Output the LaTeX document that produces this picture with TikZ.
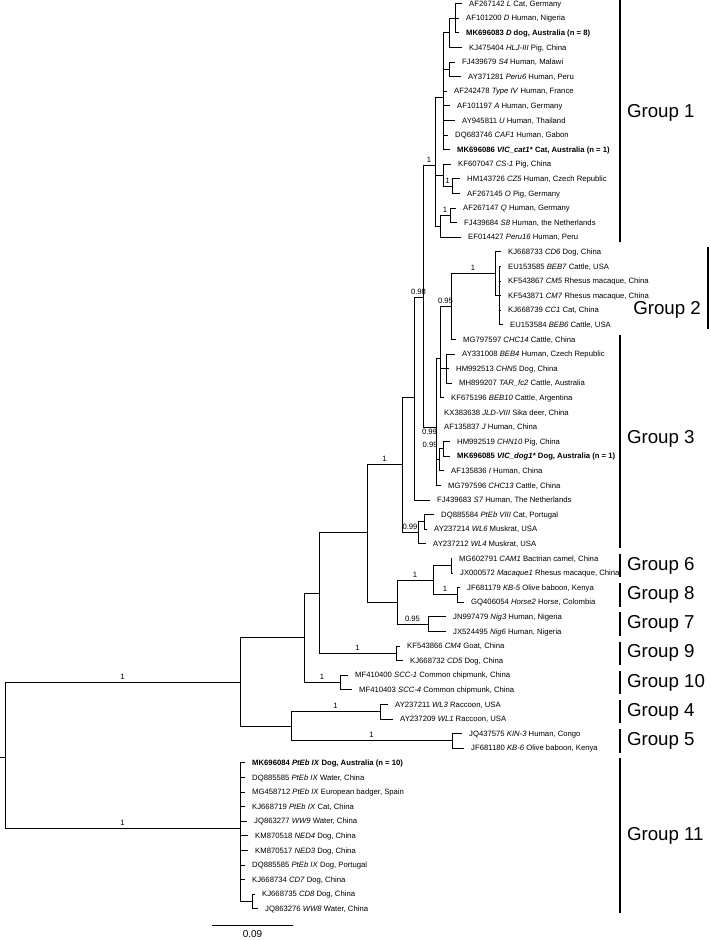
\documentclass[tikz,border=0pt]{standalone}
\usepackage{fontspec}
\setmainfont{Liberation Sans}
\usetikzlibrary{positioning}
\tikzset{
  elbow/.style={draw=black,line width=0.8pt,to path={|- (\tikztotarget) \tikztonodes}},
  leaf/.style={font=\fontsize{7.7}{9}\selectfont,inner sep=0pt,text height=6pt,text depth=0.5pt},
  leafb/.style={leaf,font=\fontsize{7.7}{9}\selectfont\bfseries},
  sup/.style={font=\fontsize{7.7}{9}\selectfont,inner sep=1pt,pos=0.75,above=1.5pt},
  supb/.style={sup,below=1pt},
  supl/.style={font=\fontsize{7.7}{9}\selectfont,inner sep=1pt,pos=0.5,anchor=south east},
  gbar/.style={draw=black,line width=2pt},
  glabel/.style={font=\fontsize{18.7}{22}\selectfont,inner sep=0pt},
}
\begin{document}
\begin{tikzpicture}[x=1pt,y=-14.6pt]
\useasboundingbox (0,-0.24) rectangle (710,64.14);
% clades
\coordinate (stub) at (0,51.61);
\coordinate (root) at (5,51.61);
\coordinate (nTop) at (240,46.47);
\coordinate (nG11) at (240,56.5);
\coordinate (nCD8) at (252,61.5);
\coordinate (nA) at (304,43.44);
\coordinate (nE) at (291,49.5);
\coordinate (nRac) at (380,48.5);
\coordinate (nKIN) at (452,50.5);
\coordinate (nB) at (319,40.375);
\coordinate (nSCC) at (340,46.5);
\coordinate (nC) at (367,36.25);
\coordinate (nG9) at (396,44.5);
\coordinate (nC2) at (402,31.6);
\coordinate (nD) at (397,41);
\coordinate (nG68) at (433,39.5);
\coordinate (nCAM) at (451,38.5);
\coordinate (nKB) at (457,40.5);
\coordinate (nNig) at (428,42.5);
\coordinate (nS7) at (414,26.95);
\coordinate (nWL) at (418,36.25);
\coordinate (nPt) at (424,35.5);
\coordinate (n098) at (423,20.1);
\coordinate (nG1) at (435,11.1);
\coordinate (n099) at (436,29);
\coordinate (nBEB10) at (440,24.3);
\coordinate (n095) at (451,20.75);
\coordinate (nG2) at (495,18.5);
\coordinate (nG2b) at (499,20);
\coordinate (nBEB4) at (446,25);
\coordinate (nI) at (439,31.25);
\coordinate (nCHN10) at (443,30.5);
\coordinate (nG1p) at (443,6.4);
\coordinate (nHLJ) at (449,2);
\coordinate (nL) at (455,1);
\coordinate (nS4) at (449,4.5);
\coordinate (nCS) at (443,11.75);
\coordinate (nCZ) at (452,12.5);
\coordinate (nQP) at (440,15.25);
\coordinate (nQ) at (450,14.5);
% tips
\coordinate (t0) at (462,0);
\coordinate (t1) at (459,1);
\coordinate (t2) at (459,2);
\coordinate (t3) at (462,3);
\coordinate (t4) at (455,4);
\coordinate (t5) at (461,5);
\coordinate (t6) at (447,6);
\coordinate (t7) at (450,7);
\coordinate (t8) at (455,8);
\coordinate (t9) at (448,9);
\coordinate (t10) at (450,10);
\coordinate (t11) at (451,11);
\coordinate (t12) at (460,12);
\coordinate (t13) at (460,13);
\coordinate (t14) at (456,14);
\coordinate (t15) at (457,15);
\coordinate (t16) at (461,16);
\coordinate (t17) at (501,17);
\coordinate (t18) at (501,18);
\coordinate (t19) at (501,19);
\coordinate (t20) at (501,20);
\coordinate (t21) at (501,21);
\coordinate (t22) at (503,22);
\coordinate (t23) at (456,23);
\coordinate (t24) at (455,24);
\coordinate (t25) at (449,25);
\coordinate (t26) at (452,26);
\coordinate (t27) at (444,27);
\coordinate (t28) at (437,28);
\coordinate (t29) at (437,29);
\coordinate (t30) at (450,30);
\coordinate (t31) at (450,31);
\coordinate (t32) at (444,32);
\coordinate (t33) at (441,33);
\coordinate (t34) at (430,34);
\coordinate (t35) at (434,35);
\coordinate (t36) at (427,36);
\coordinate (t37) at (426,37);
\coordinate (t38) at (452,38);
\coordinate (t39) at (453,39);
\coordinate (t40) at (460,40);
\coordinate (t41) at (464,41);
\coordinate (t42) at (446,42);
\coordinate (t43) at (446,43);
\coordinate (t44) at (400,44);
\coordinate (t45) at (403,45);
\coordinate (t46) at (348,46);
\coordinate (t47) at (352,47);
\coordinate (t48) at (388,48);
\coordinate (t49) at (393,49);
\coordinate (t50) at (462,50);
\coordinate (t51) at (464,51);
\coordinate (t52) at (245,52);
\coordinate (t53) at (245,53);
\coordinate (t54) at (245,54);
\coordinate (t55) at (245,55);
\coordinate (t56) at (247,56);
\coordinate (t57) at (248,57);
\coordinate (t58) at (248,58);
\coordinate (t59) at (245,59);
\coordinate (t60) at (245,60);
\coordinate (t61) at (255,61);
\coordinate (t62) at (258,62);
% branches
\begin{scope}[every edge/.style={elbow}]
    \path (root) edge (stub);
    \path (root) edge node[sup] {1} (nTop);
    \path (root) edge node[sup] {1} (nG11);
    \path (nTop) edge (nA);
    \path (nTop) edge (nE);
    \path (nA) edge (nB);
    \path (nA) edge node[sup] {1} (nSCC);
    \path (nB) edge (nC);
    \path (nB) edge node[sup] {1} (nG9);
    \path (nC) edge node[sup] {1} (nC2);
    \path (nC) edge (nD);
    \path (nC2) edge (nS7);
    \path (nC2) edge node[sup] {0.99} (nWL);
    \path (nD) edge node[sup] {1} (nG68);
    \path (nD) edge node[sup] {0.95} (nNig);
    \path (nG68) edge (nCAM);
    \path (nG68) edge node[sup] {1} (nKB);
    \path (nS7) edge node[sup] {0.98} (n098);
    \path (nS7) edge (t34);
    \path (nWL) edge (nPt);
    \path (nWL) edge (t37);
    \path (nPt) edge (t35);
    \path (nPt) edge (t36);
    \path (n098) edge node[sup] {1} (nG1);
    \path (n098) edge node[supb] {0.99} (n099);
    \path (n099) edge (nBEB10);
    \path (n099) edge (t28);
    \path (n099) edge (t29);
    \path (n099) edge (nI);
    \path (n099) edge (t33);
    \path (nBEB10) edge node[sup] {0.95} (n095);
    \path (nBEB10) edge (nBEB4);
    \path (nBEB10) edge (t27);
    \path (n095) edge node[sup] {1} (nG2);
    \path (n095) edge (t23);
    \path (nG2) edge (t17);
    \path (nG2) edge (nG2b);
    \path (nG2b) edge (t18);
    \path (nG2b) edge (t19);
    \path (nG2b) edge (t20);
    \path (nG2b) edge (t21);
    \path (nG2b) edge (t22);
    \path (nBEB4) edge (t24);
    \path (nBEB4) edge (t25);
    \path (nBEB4) edge (t26);
    \path (nI) edge node[supl] {0.99} (nCHN10);
    \path (nI) edge (t32);
    \path (nCHN10) edge (t30);
    \path (nCHN10) edge (t31);
    \path (nG1) edge (nG1p);
    \path (nG1) edge (nCS);
    \path (nG1) edge (nQP);
    \path (nG1p) edge (nHLJ);
    \path (nG1p) edge (nS4);
    \path (nG1p) edge (t6);
    \path (nG1p) edge (t7);
    \path (nG1p) edge (t8);
    \path (nG1p) edge (t9);
    \path (nG1p) edge (t10);
    \path (nHLJ) edge (nL);
    \path (nHLJ) edge (t3);
    \path (nL) edge (t0);
    \path (nL) edge (t1);
    \path (nL) edge (t2);
    \path (nS4) edge (t4);
    \path (nS4) edge (t5);
    \path (nCS) edge (t11);
    \path (nCS) edge node[sup] {1} (nCZ);
    \path (nCZ) edge (t12);
    \path (nCZ) edge (t13);
    \path (nQP) edge node[sup] {1} (nQ);
    \path (nQP) edge (t16);
    \path (nQ) edge (t14);
    \path (nQ) edge (t15);
    \path (nE) edge node[sup] {1} (nRac);
    \path (nE) edge node[sup] {1} (nKIN);
    \path (nRac) edge (t48);
    \path (nRac) edge (t49);
    \path (nKIN) edge (t50);
    \path (nKIN) edge (t51);
    \path (nSCC) edge (t46);
    \path (nSCC) edge (t47);
    \path (nG9) edge (t44);
    \path (nG9) edge (t45);
    \path (nCAM) edge (t38);
    \path (nCAM) edge (t39);
    \path (nKB) edge (t40);
    \path (nKB) edge (t41);
    \path (nNig) edge (t42);
    \path (nNig) edge (t43);
    \path (nG11) edge (t52);
    \path (nG11) edge (t53);
    \path (nG11) edge (t54);
    \path (nG11) edge (t55);
    \path (nG11) edge (t56);
    \path (nG11) edge (t57);
    \path (nG11) edge (t58);
    \path (nG11) edge (t59);
    \path (nG11) edge (t60);
    \path (nG11) edge (nCD8);
    \path (nCD8) edge (t61);
    \path (nCD8) edge (t62);
\end{scope}
% taxon labels
\begin{scope}[every node/.style={leaf}]
    \node[right=7pt of t0] (l0) {AF267142 \textit{L} Cat, Germany};
    \node[right=7pt of t1] (l1) {AF101200 \textit{D} Human, Nigeria};
    \node[leafb,right=7pt of t2] (l2) {MK696083 \textit{D} dog, Australia (n = 8)};
    \node[right=7pt of t3] (l3) {KJ475404 \textit{HLJ-III} Pig, China};
    \node[right=7pt of t4] (l4) {FJ439679 \textit{S4} Human, Malawi};
    \node[right=7pt of t5] (l5) {AY371281 \textit{Peru6} Human, Peru};
    \node[right=7pt of t6] (l6) {AF242478 \textit{Type IV} Human, France};
    \node[right=7pt of t7] (l7) {AF101197 \textit{A} Human, Germany};
    \node[right=7pt of t8] (l8) {AY945811 \textit{U} Human, Thailand};
    \node[right=7pt of t9] (l9) {DQ683746 \textit{CAF1} Human, Gabon};
    \node[leafb,right=7pt of t10] (l10) {MK696086 \textit{VIC\_cat1*} Cat, Australia (n = 1)};
    \node[right=7pt of t11] (l11) {KF607047 \textit{CS-1} Pig, China};
    \node[right=7pt of t12] (l12) {HM143726 \textit{CZ5} Human, Czech Republic};
    \node[right=7pt of t13] (l13) {AF267145 \textit{O} Pig, Germany};
    \node[right=7pt of t14] (l14) {AF267147 \textit{Q} Human, Germany};
    \node[right=7pt of t15] (l15) {FJ439684 \textit{S8} Human, the Netherlands};
    \node[right=7pt of t16] (l16) {EF014427 \textit{Peru16} Human, Peru};
    \node[right=7pt of t17] (l17) {KJ668733 \textit{CD6} Dog, China};
    \node[right=7pt of t18] (l18) {EU153585 \textit{BEB7} Cattle, USA};
    \node[right=7pt of t19] (l19) {KF543867 \textit{CM5} Rhesus macaque, China};
    \node[right=7pt of t20] (l20) {KF543871 \textit{CM7} Rhesus macaque, China};
    \node[right=7pt of t21] (l21) {KJ668739 \textit{CC1} Cat, China};
    \node[right=7pt of t22] (l22) {EU153584 \textit{BEB6} Cattle, USA};
    \node[right=7pt of t23] (l23) {MG797597 \textit{CHC14} Cattle, China};
    \node[right=7pt of t24] (l24) {AY331008 \textit{BEB4} Human, Czech Republic};
    \node[right=7pt of t25] (l25) {HM992513 \textit{CHN5} Dog, China};
    \node[right=7pt of t26] (l26) {MH899207 \textit{TAR\_fc2} Cattle, Australia};
    \node[right=7pt of t27] (l27) {KF675196 \textit{BEB10} Cattle, Argentina};
    \node[right=7pt of t28] (l28) {KX383638 \textit{JLD-VIII} Sika deer, China};
    \node[right=7pt of t29] (l29) {AF135837 \textit{J} Human, China};
    \node[right=7pt of t30] (l30) {HM992519 \textit{CHN10} Pig, China};
    \node[leafb,right=7pt of t31] (l31) {MK696085 \textit{VIC\_dog1*} Dog, Australia (n = 1)};
    \node[right=7pt of t32] (l32) {AF135836 \textit{I} Human, China};
    \node[right=7pt of t33] (l33) {MG797596 \textit{CHC13} Cattle, China};
    \node[right=7pt of t34] (l34) {FJ439683 \textit{S7} Human, The Netherlands};
    \node[right=7pt of t35] (l35) {DQ885584 \textit{PtEb VIII} Cat, Portugal};
    \node[right=7pt of t36] (l36) {AY237214 \textit{WL6} Muskrat, USA};
    \node[right=7pt of t37] (l37) {AY237212 \textit{WL4} Muskrat, USA};
    \node[right=7pt of t38] (l38) {MG602791 \textit{CAM1} Bactrian camel, China};
    \node[right=7pt of t39] (l39) {JX000572 \textit{Macaque1} Rhesus macaque, China};
    \node[right=7pt of t40] (l40) {JF681179 \textit{KB-5} Olive baboon, Kenya};
    \node[right=7pt of t41] (l41) {GQ406054 \textit{Horse2} Horse, Colombia};
    \node[right=7pt of t42] (l42) {JN997479 \textit{Nig3} Human, Nigeria};
    \node[right=7pt of t43] (l43) {JX524495 \textit{Nig6} Human, Nigeria};
    \node[right=7pt of t44] (l44) {KF543866 \textit{CM4} Goat, China};
    \node[right=7pt of t45] (l45) {KJ668732 \textit{CD5} Dog, China};
    \node[right=7pt of t46] (l46) {MF410400 \textit{SCC-1} Common chipmunk, China};
    \node[right=7pt of t47] (l47) {MF410403 \textit{SCC-4} Common chipmunk, China};
    \node[right=7pt of t48] (l48) {AY237211 \textit{WL3} Raccoon, USA};
    \node[right=7pt of t49] (l49) {AY237209 \textit{WL1} Raccoon, USA};
    \node[right=7pt of t50] (l50) {JQ437575 \textit{KIN-3} Human, Congo};
    \node[right=7pt of t51] (l51) {JF681180 \textit{KB-6} Olive baboon, Kenya};
    \node[leafb,right=7pt of t52] (l52) {MK696084 \textit{PtEb IX} Dog, Australia (n = 10)};
    \node[right=7pt of t53] (l53) {DQ885585 \textit{PtEb IX} Water, China};
    \node[right=7pt of t54] (l54) {MG458712 \textit{PtEb IX} European badger, Spain};
    \node[right=7pt of t55] (l55) {KJ668719 \textit{PtEb IX} Cat, China};
    \node[right=7pt of t56] (l56) {JQ863277 \textit{WW9} Water, China};
    \node[right=7pt of t57] (l57) {KM870518 \textit{NED4} Dog, China};
    \node[right=7pt of t58] (l58) {KM870517 \textit{NED3} Dog, China};
    \node[right=7pt of t59] (l59) {DQ885585 \textit{PtEb IX} Dog, Portugal};
    \node[right=7pt of t60] (l60) {KJ668734 \textit{CD7} Dog, China};
    \node[right=7pt of t61] (l61) {KJ668735 \textit{CD8} Dog, China};
    \node[right=7pt of t62] (l62) {JQ863276 \textit{WW8} Water, China};
\end{scope}
% groups
\draw[gbar] (620,-0.3) -- (620,16.3) node[glabel,pos=0.47,right=6pt] (g1) {Group 1};
\draw[gbar] (708,16.7) -- (708,22.3);
\node[glabel,anchor=east] (g2) at (701,21) {Group 2};
\draw[gbar] (620,22.7) -- (620,37.3) node[glabel,pos=0.49,right=6pt] (g3) {Group 3};
\draw[gbar] (620,37.7) -- (620,39.3) node[glabel,midway,right=6pt] (g6) {Group 6};
\draw[gbar] (620,39.7) -- (620,41.3) node[glabel,midway,right=6pt] (g8) {Group 8};
\draw[gbar] (620,41.7) -- (620,43.3) node[glabel,midway,right=6pt] (g7) {Group 7};
\draw[gbar] (620,43.7) -- (620,45.3) node[glabel,midway,right=6pt] (g9) {Group 9};
\draw[gbar] (620,45.7) -- (620,47.3) node[glabel,midway,right=6pt] (g10) {Group 10};
\draw[gbar] (620,47.7) -- (620,49.3) node[glabel,midway,right=6pt] (g4) {Group 4};
\draw[gbar] (620,49.7) -- (620,51.3) node[glabel,midway,right=6pt] (g5) {Group 5};
\draw[gbar] (620,51.7) -- (620,62.3) node[glabel,midway,right=6pt] (g11) {Group 11};
% scale
\coordinate (sb1) at (212,63.18);
\coordinate (sb2) at (293,63.18);
\draw[line width=1pt] (sb1) -- node[below=4pt,inner sep=0pt,font=\fontsize{10}{12}\selectfont] (sbl) {0.09} (sb2);
\end{tikzpicture}
\end{document}
